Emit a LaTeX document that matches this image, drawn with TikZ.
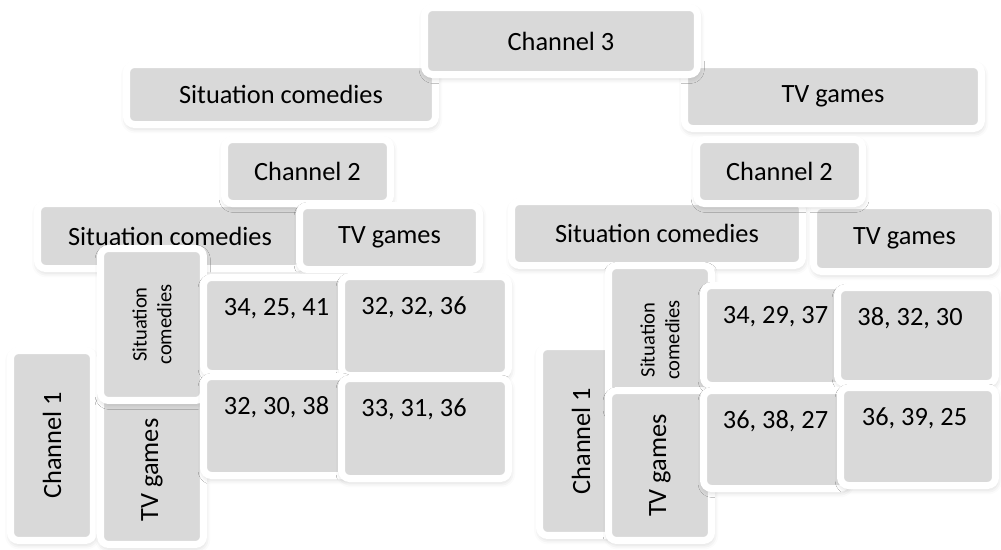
\documentclass[tikz,border=0pt]{standalone}
\usepackage{fontspec}
\setmainfont{Carlito}
\usetikzlibrary{shadows.blur}
\definecolor{tilegray}{RGB}{217,217,217}

\begin{document}
\begin{tikzpicture}[x=0.02cm, y=-0.02cm,
  tile/.style={rectangle, rounded corners=0.16cm, fill=tilegray, draw=white,
    line width=0.14cm, inner sep=0pt, font=\fontsize{15}{18}\selectfont,
    blur shadow={shadow xshift=0.4pt, shadow yshift=-1.6pt,
      shadow blur radius=3.5pt, shadow opacity=22}},
  sidetile/.style={tile, rotate=90},
  smalltile/.style={sidetile, align=center, font=\fontsize{11.7}{14}\selectfont},
  num/.style={inner sep=0pt, font=\fontsize{15}{18}\selectfont}]

  \useasboundingbox (0,0) rectangle (1001,549);

  %-----------------------------
  % Channel 3 and its two choices
  \node[tile, minimum width=6.18cm, minimum height=1.2cm]  (sit3) at (281,94.5) {Situation comedies};
  \node[tile, minimum width=5.94cm, minimum height=1.28cm] (tv3)  at (833,96.5) {TV games};
  \node[tile, minimum width=5.46cm, minimum height=1.34cm] (ch3)  at (561,41)   {Channel 3};

  %-----------------------------
  % Channel 2, left branch
  \node[tile, minimum width=5.3cm, minimum height=1.3cm]   (sitL) at (170,236)   {Situation comedies};
  \node[tile, minimum width=3.32cm, minimum height=1.28cm] (ch2L) at (307.5,171.5) {Channel 2};
  \node[tile, minimum width=3.6cm, minimum height=1.28cm]  (tvL)  at (389.5,237.5) {TV games};

  % Channel 2, right branch
  \node[tile, minimum width=5.82cm, minimum height=1.28cm] (sitR) at (657,233.5) {Situation comedies};
  \node[tile, minimum width=3.64cm, minimum height=1.32cm] (tvR)  at (904.5,238.5) {TV games};
  \node[tile, minimum width=3.32cm, minimum height=1.28cm] (ch2R) at (779.5,171.5) {Channel 2};

  %-----------------------------
  % Channel 1, left table
  \node[sidetile, minimum width=3.8cm, minimum height=1.66cm]  (ch1L)   at (52,445.5)  {Channel 1};
  \node[sidetile, minimum width=2.98cm, minimum height=2.06cm] (rowtvL) at (152,470)   {TV games};
  \node[smalltile, minimum width=3.04cm, minimum height=2.06cm] (rowsitL) at (152,324.5) {Situation\\comedies};

  % payoffs (left table)
  \node[tile, minimum width=2.92cm, minimum height=1.92cm] (pL11) at (276.5,325.5) {};
  \node[num] (tL11) at ([yshift=-0.69cm] pL11.north) {34, 25, 41};
  \node[tile, minimum width=3.34cm, minimum height=1.98cm] (pL12) at (425,326) {};
  \node[num] (tL12) at ([xshift=-0.22cm, yshift=-0.69cm] pL12.north) {32, 32, 36};
  \node[tile, minimum width=2.92cm, minimum height=1.98cm] (pL21) at (276.5,426) {};
  \node[num] (tL21) at ([yshift=-0.69cm] pL21.north) {32, 30, 38};
  \node[tile, minimum width=3.34cm, minimum height=2.0cm]  (pL22) at (425,428.5) {};
  \node[num] (tL22) at ([xshift=-0.22cm, yshift=-0.69cm] pL22.north) {33, 31, 36};

  %-----------------------------
  % Channel 1, right table
  \node[sidetile, minimum width=3.78cm, minimum height=1.66cm] (ch1R)   at (581,441)   {Channel 1};
  \node[smalltile, minimum width=2.98cm, minimum height=2.06cm] (rowsitR) at (660,340) {Situation\\comedies};
  \node[sidetile, minimum width=3.0cm, minimum height=2.06cm]  (rowtvR) at (660,465.5) {TV games};

  % payoffs (right table)
  \node[tile, minimum width=2.88cm, minimum height=2.0cm]  (pR11) at (775.5,335.5) {};
  \node[num] (tR11) at ([yshift=-0.69cm] pR11.north) {34, 29, 37};
  \node[tile, minimum width=3.16cm, minimum height=1.92cm] (pR12) at (916.5,335.5) {};
  \node[num] (tR12) at ([xshift=-0.13cm, yshift=-0.69cm] pR12.north) {38, 32, 30};
  \node[tile, minimum width=2.88cm, minimum height=1.96cm] (pR21) at (775.5,439.5) {};
  \node[num] (tR21) at ([yshift=-0.69cm] pR21.north) {36, 38, 27};
  \node[tile, minimum width=3.1cm, minimum height=1.96cm]  (pR22) at (918,436.5) {};
  \node[num] (tR22) at ([xshift=-0.07cm, yshift=-0.69cm] pR22.north) {36, 39, 25};
\end{tikzpicture}
\end{document}
